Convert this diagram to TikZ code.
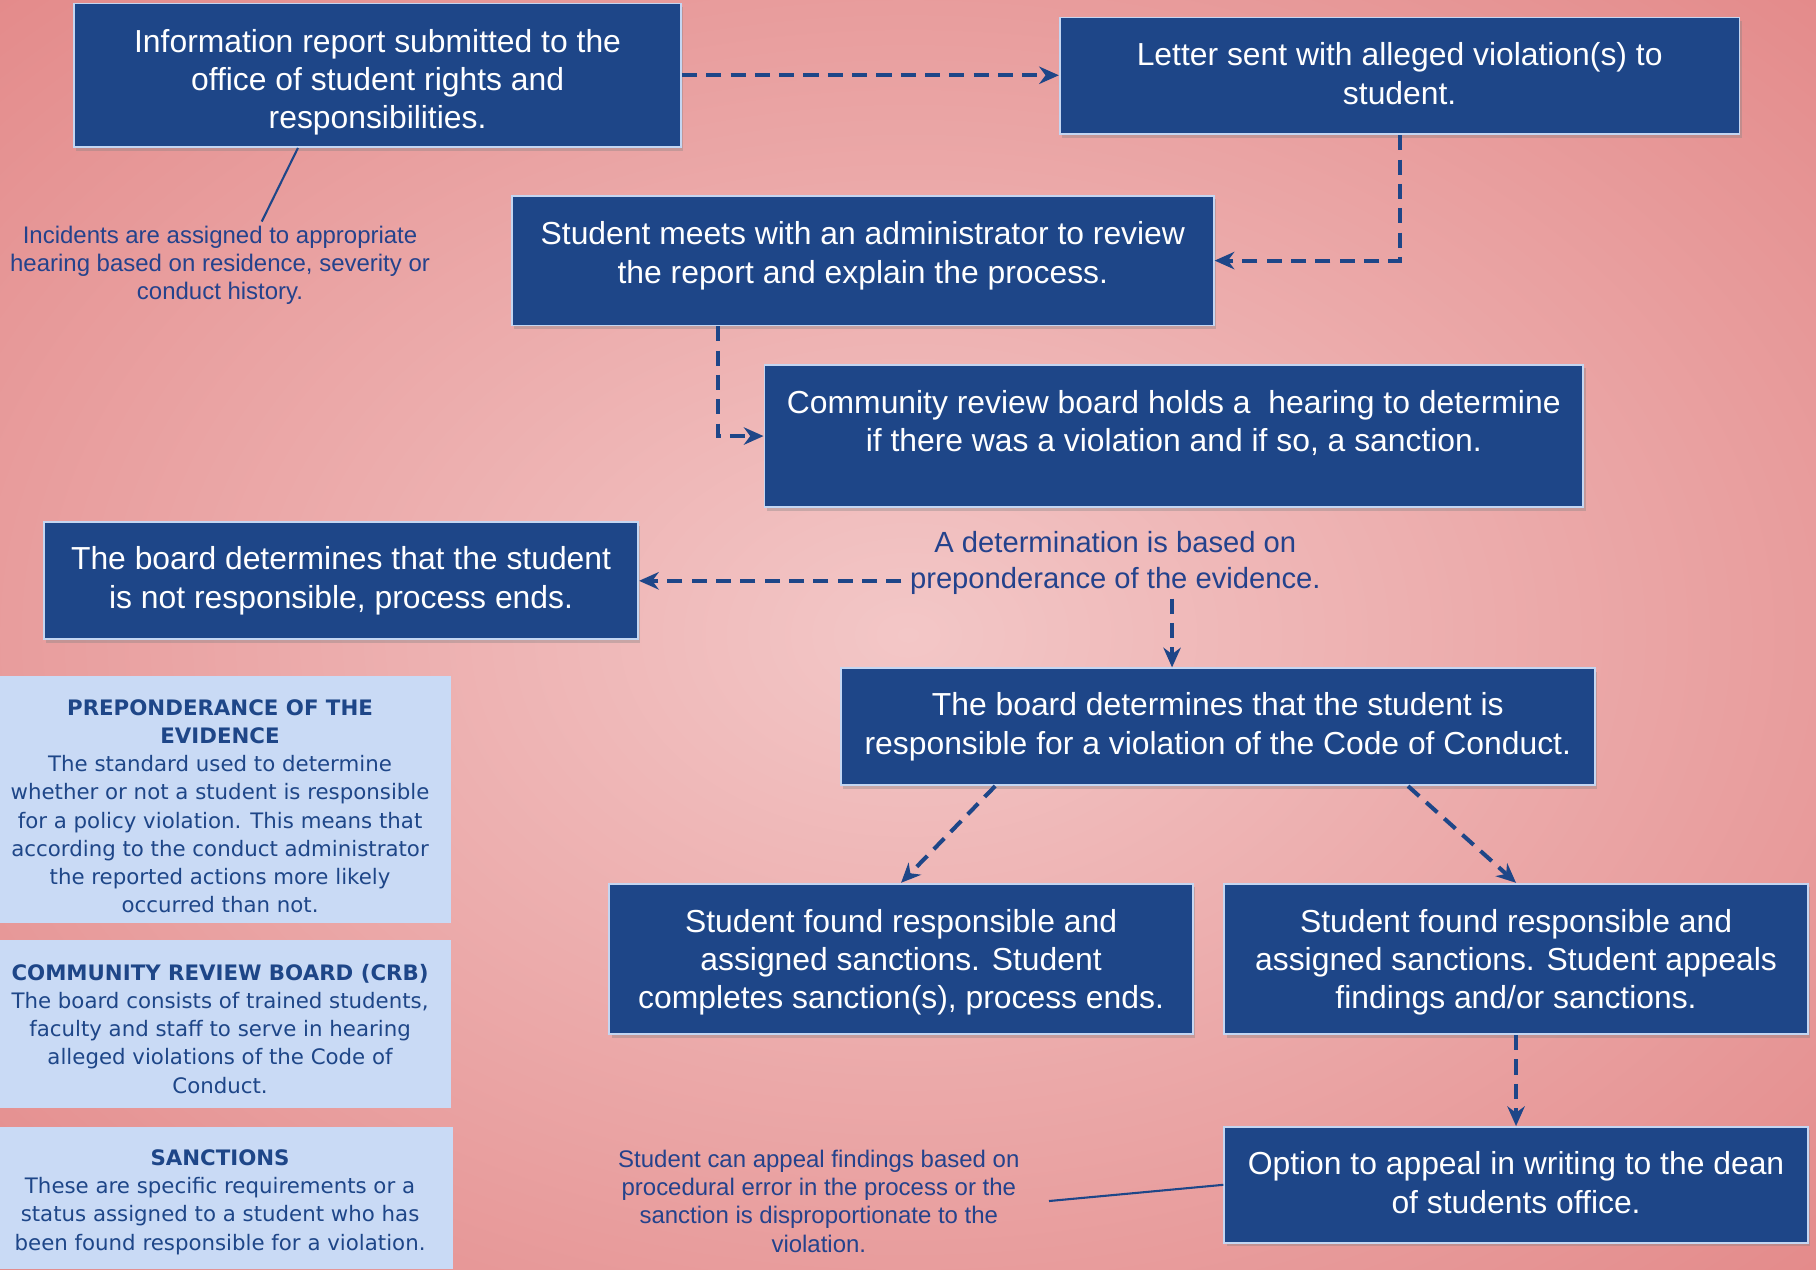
\documentclass[tikz,border=0pt]{standalone}
\usepackage{fontspec}
\setmainfont{Liberation Sans}
\newfontfamily\sidefont{DejaVu Sans}
\usetikzlibrary{arrows.meta,shadows}

\definecolor{boxblue}{RGB}{30,70,136}
\definecolor{boxedge}{RGB}{196,214,242}
\definecolor{noteblue}{RGB}{36,66,140}
\definecolor{sidefill}{RGB}{201,218,245}
\definecolor{glowin}{RGB}{243,199,199}
\definecolor{glowout}{RGB}{221,114,114}

\pgfdeclareradialshading{bgglow}{\pgfpoint{0bp}{0bp}}{color(0bp)=(glowin); color(50bp)=(glowout); color(72bp)=(glowout)}

\begin{document}
\begin{tikzpicture}[x=1pt,y=-1pt,
  stepbox/.style={draw=boxedge, line width=1.5pt, fill=boxblue, text=white,
    align=center, inner sep=0pt, font=\fontsize{27.5}{33}\selectfont,
    drop shadow={shadow xshift=2pt, shadow yshift=-3pt, opacity=0.35}},
  note/.style={text=noteblue, align=center, font=\fontsize{20.7}{24.5}\selectfont},
  sidebox/.style={fill=sidefill, text=boxblue, align=center, inner sep=0pt,
    font=\sidefont\fontsize{18.4}{24.3}\selectfont},
  flow/.style={boxblue, line width=3.5pt, dash pattern=on 13pt off 8pt,
    -{Stealth[length=17pt,width=15pt]}},
  lead/.style={boxblue, line width=1.8pt}]

% Background
\shade[shading=bgglow] (0,0) rectangle (1568,1096);
\useasboundingbox (0,0) rectangle (1568,1096);

% Process boxes
\node[stepbox, minimum width=524pt, minimum height=124pt, text depth=0pt] (info) at (326,65)
  {\rule{0pt}{26pt}Information report submitted to the\\office of student rights and\\responsibilities.};
\node[stepbox, minimum width=587pt, minimum height=101pt, text depth=4pt] (letter) at (1208.5,65.5)
  {Letter sent with alleged violation(s) to\\student.};
\node[stepbox, minimum width=606pt, minimum height=112pt, text depth=14pt] (meet) at (745,225)
  {Student meets with an administrator to review\\the report and explain the process.};
\node[stepbox, minimum width=707pt, minimum height=123pt, text depth=26pt] (board) at (1013.5,376.5)
  {Community review board holds a \ hearing to determine\\if there was a violation and if so, a sanction.};
\node[stepbox, minimum width=513pt, minimum height=101pt] (notresp) at (294.5,501.5)
  {The board determines that the student\\is not responsible, process ends.};
\node[stepbox, minimum width=651pt, minimum height=101pt] (guilty) at (1051.5,627.5)
  {The board determines that the student is\\responsible for a violation of the Code of Conduct.};
\node[stepbox, minimum width=504pt, minimum height=130pt, text depth=0pt] (ends) at (778,828)
  {Student found responsible and\\assigned sanctions. Student\\completes sanction(s), process ends.};
\node[stepbox, minimum width=504pt, minimum height=130pt, text depth=0pt] (appeals) at (1309,828)
  {Student found responsible and\\assigned sanctions. Student appeals\\findings and/or sanctions.};
\node[stepbox, minimum width=504pt, minimum height=100pt, text depth=4pt] (option) at (1309,1023)
  {Option to appeal in writing to the dean\\of students office.};

% Notes
\node[note] (incident) at (190,229)
  {Incidents are assigned to appropriate\\hearing based on residence, severity or\\conduct history.};
\node[note, font=\fontsize{25.2}{31}\selectfont] (verdict) at (963,486)
  {A determination is based on\\preponderance of the evidence.};
\node[note] (appeal) at (707,1037)
  {Student can appeal findings based on\\procedural error in the process or the\\sanction is disproportionate to the\\violation.};

% Side panels
\node[sidebox, minimum width=398pt, minimum height=213pt] (prep) at (190,690.5)
  {\rule{0pt}{25pt}\textbf{PREPONDERANCE OF THE}\\\textbf{EVIDENCE}\\The standard used to determine\\whether or not a student is responsible\\for a policy violation. This means that\\according to the conduct administrator\\the reported actions more likely\\occurred than not.};
\node[sidebox, minimum width=398pt, minimum height=145pt] (crb) at (190,884.5)
  {\rule{0pt}{21.5pt}\textbf{COMMUNITY REVIEW BOARD (CRB)}\\The board consists of trained students,\\faculty and staff to serve in hearing\\alleged violations of the Code of\\Conduct.};
\node[sidebox, minimum width=402pt, minimum height=123pt] (sanct) at (190,1034.5)
  {\rule{0pt}{20.5pt}\textbf{SANCTIONS}\\These are specific requirements or a\\status assigned to a student who has\\been found responsible for a violation.};

% Flow
\draw[flow] (info.east) -- (info.east -| letter.west);
\draw[flow] (letter.south) |- (meet.east);
\draw[flow] ([xshift=-125pt]meet.south) |- (board.west);
\draw[flow] ([xshift=-4pt]verdict.west |- notresp) -- (notresp);
\draw[flow] ([xshift=49pt]verdict.south) -- ([xshift=49pt]verdict.south |- guilty.north);
\draw[flow] ([xshift=134pt]guilty.south west) -- (ends.north);
\draw[flow] ([xshift=-162pt]guilty.south east) -- (appeals.north);
\draw[flow] (appeals.south) -- (option.north);

% Leaders
\draw[lead] ([xshift=194pt]info.south west) -- ([xshift=36pt]incident.north);
\draw[lead] ([xshift=22pt]appeal.east) -- (option.west);
\end{tikzpicture}
\end{document}
